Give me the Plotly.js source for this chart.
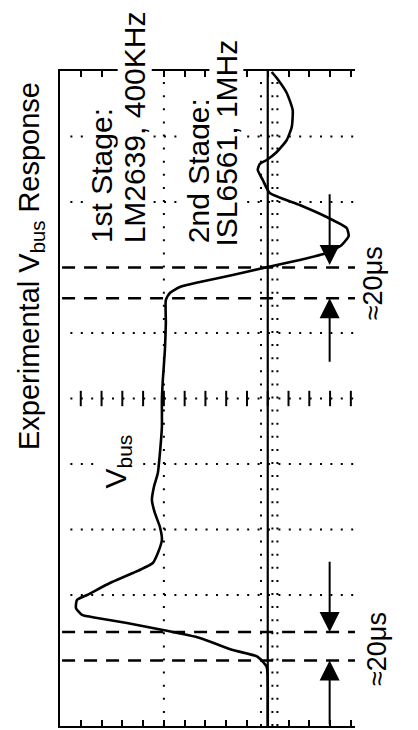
<!DOCTYPE html>
<html>
<head>
<meta charset="utf-8">
<script src="https://cdn.plot.ly/plotly-3.0.1.min.js"></script>
<style>
html,body{margin:0;padding:0;background:#fff;}
#chart{width:418px;height:730px;}
</style>
</head>
<body>
<div id="chart"></div>
<script>
// Scope trace (rotated screen): time in divisions (vertical), Vbus in divisions (horizontal)
const timeDiv = [0, 0.3, 0.6, 0.9, 1.06, 1.16, 1.344, 1.466, 1.573, 1.649, 1.695, 1.80, 1.924, 2.0, 2.183, 2.336, 2.489, 2.641, 2.84, 3.038, 3.252, 3.45, 3.649, 3.863, 4.168, 4.565, 4.977, 5.282, 5.74, 6.153, 6.504, 6.611, 6.702, 6.779, 6.885, 7.008, 7.115, 7.221, 7.344, 7.481, 7.603, 7.771, 7.954, 8.137, 8.336, 8.489, 8.58, 8.641, 8.763, 8.947, 9.145, 9.405, 9.664, 9.893, 9.985];
const vbusDiv = [2.0, 2.0, 2.0, 1.99, 1.9, 1.663, 1.346, 0.99, 0.644, 0.356, 0.212, 0.154, 0.163, 0.26, 0.481, 0.702, 0.894, 0.942, 0.981, 0.962, 0.913, 0.885, 0.904, 0.942, 0.962, 0.981, 0.981, 0.99, 1.01, 1.019, 1.019, 1.058, 1.154, 1.346, 1.663, 2.0, 2.308, 2.567, 2.712, 2.779, 2.76, 2.567, 2.308, 2.019, 1.952, 1.904, 1.923, 1.99, 2.087, 2.183, 2.231, 2.24, 2.183, 2.087, 2.038];

// Timing markers (time in divisions)
const markerTimes = [7.0, 6.53, 1.435, 1.0];
const arrowX = 2.596;
const arrowPairs = [
  {tail: 8.14, head: 7.04}, {tail: 5.54, head: 6.53},
  {tail: 2.53, head: 1.435}, {tail: 0, head: 1.0}
];

const titleText = 'Experimental V<sub>bus</sub> Response';
const stage1 = ['1st Stage:', 'LM2639, 400KHz'];
const stage2 = ['2nd Stage:', 'ISL6561, 1MHz'];
const traceLabel = 'V<sub>bus</sub>';
const intervalLabel = '≈20μs';

const XMAX = 2.84, YMAX = 10;
const FONT = '"Liberation Sans", Arial, Helvetica, sans-serif';

const shapes = [];
// horizontal dotted grid (lines at 1 and 7 are covered by dashed markers)
for (let k = 1; k <= 9; k++) {
  if (k === 1 || k === 7) continue;
  shapes.push({type:'line', layer:'below', xref:'x', yref:'y', x0:0.1, x1:XMAX, y0:k, y1:k,
    line:{color:'#000', width:2, dash:'2px,8.4px'}});
}
// vertical dotted grid at 1 div
shapes.push({type:'line', layer:'below', xref:'x', yref:'y', x0:1, x1:1, y0:0, y1:YMAX,
  line:{color:'#000', width:2, dash:'2px,11.1px'}});
// center solid axis at 2 div
shapes.push({type:'line', layer:'below', xref:'x', yref:'y', x0:2, x1:2, y0:0, y1:YMAX,
  line:{color:'#000', width:2.2}});
// minor tick marks along the center vertical axis
[1.935, 2.045, 2.093].forEach(function(xx){
  shapes.push({type:'line', layer:'below', xref:'x', yref:'y', x0:xx, x1:xx, y0:0, y1:YMAX,
    line:{color:'#000', width:2, dash:'2px,11.1px'}});
});
// dashed timing lines
markerTimes.forEach(function(t){
  shapes.push({type:'line', layer:'above', xref:'x', yref:'y', x0:0.02, x1:2.86, y0:t, y1:t,
    line:{color:'#000', width:2.4, dash:'13px,9px'}});
});

// center horizontal axis minor ticks
const tickX = [];
const tickY = [];
for (let k = 1; k <= 14; k++) { tickX.push(k*0.2); tickY.push(5); }

const traces = [
  {x: vbusDiv, y: timeDiv, type:'scatter', mode:'lines',
   line:{color:'#000', width:2.6, shape:'spline', smoothing:0.5}, hoverinfo:'skip'},
  {x: tickX, y: tickY, type:'scatter', mode:'markers',
   marker:{symbol:'line-ns-open', size:11, color:'#000', line:{color:'#000', width:2}}, hoverinfo:'skip'}
];

const annotations = [];
function txt(text, x, y, size, opts) {
  annotations.push(Object.assign({text:text, x:x, y:y, xref:'x', yref:'y', showarrow:false,
    textangle:-90, font:{family:FONT, size:size, color:'#000'}, xanchor:'center', yanchor:'middle'}, opts||{}));
}
txt(titleText, -0.1, 0.7015, 29, {xref:'paper', yref:'paper'});
txt(stage1[0], 0.395, 7.35, 30, {yanchor:'bottom', bgcolor:'#fff', borderpad:0});
txt(stage1[1], 0.72, 7.35, 30, {yanchor:'bottom', bgcolor:'#fff', borderpad:0});
txt(stage2[0], 1.33, 7.35, 30, {yanchor:'bottom', bgcolor:'#fff', borderpad:0});
txt(stage2[1], 1.6, 7.30, 30, {yanchor:'bottom', bgcolor:'#fff', borderpad:0});
txt(traceLabel, 0.55, 4.04, 30, {bgcolor:'#fff', borderpad:0});
txt(intervalLabel, 1.061, 0.676, 27, {xref:'paper', yref:'paper'});
txt(intervalLabel, 1.0746, 0.1176, 27, {xref:'paper', yref:'paper'});

arrowPairs.forEach(function(p){
  annotations.push({x:arrowX, y:p.head, ax:arrowX, ay:p.tail, xref:'x', yref:'y', axref:'x', ayref:'y',
    text:'', showarrow:true, arrowhead:2, arrowsize:2, arrowwidth:2, arrowcolor:'#000', standoff:0});
});

const layout = {
  width:418, height:730,
  margin:{l:60, r:63, t:71, b:4, pad:0},
  paper_bgcolor:'#fff', plot_bgcolor:'#fff',
  showlegend:false,
  xaxis:{range:[0, XMAX], showgrid:false, zeroline:false, showticklabels:false,
    showline:true, linecolor:'#000', linewidth:2, mirror:'ticks',
    ticks:'inside', tick0:0, dtick:0.2, ticklen:6, tickwidth:2, tickcolor:'#000', fixedrange:true},
  yaxis:{range:[0, YMAX], showgrid:false, zeroline:false, showticklabels:false,
    showline:true, linecolor:'#000', linewidth:2, ticks:'', fixedrange:true},
  shapes: shapes,
  annotations: annotations
};

Plotly.newPlot('chart', traces, layout, {displayModeBar:false, staticPlot:true});
</script>
</body>
</html>
